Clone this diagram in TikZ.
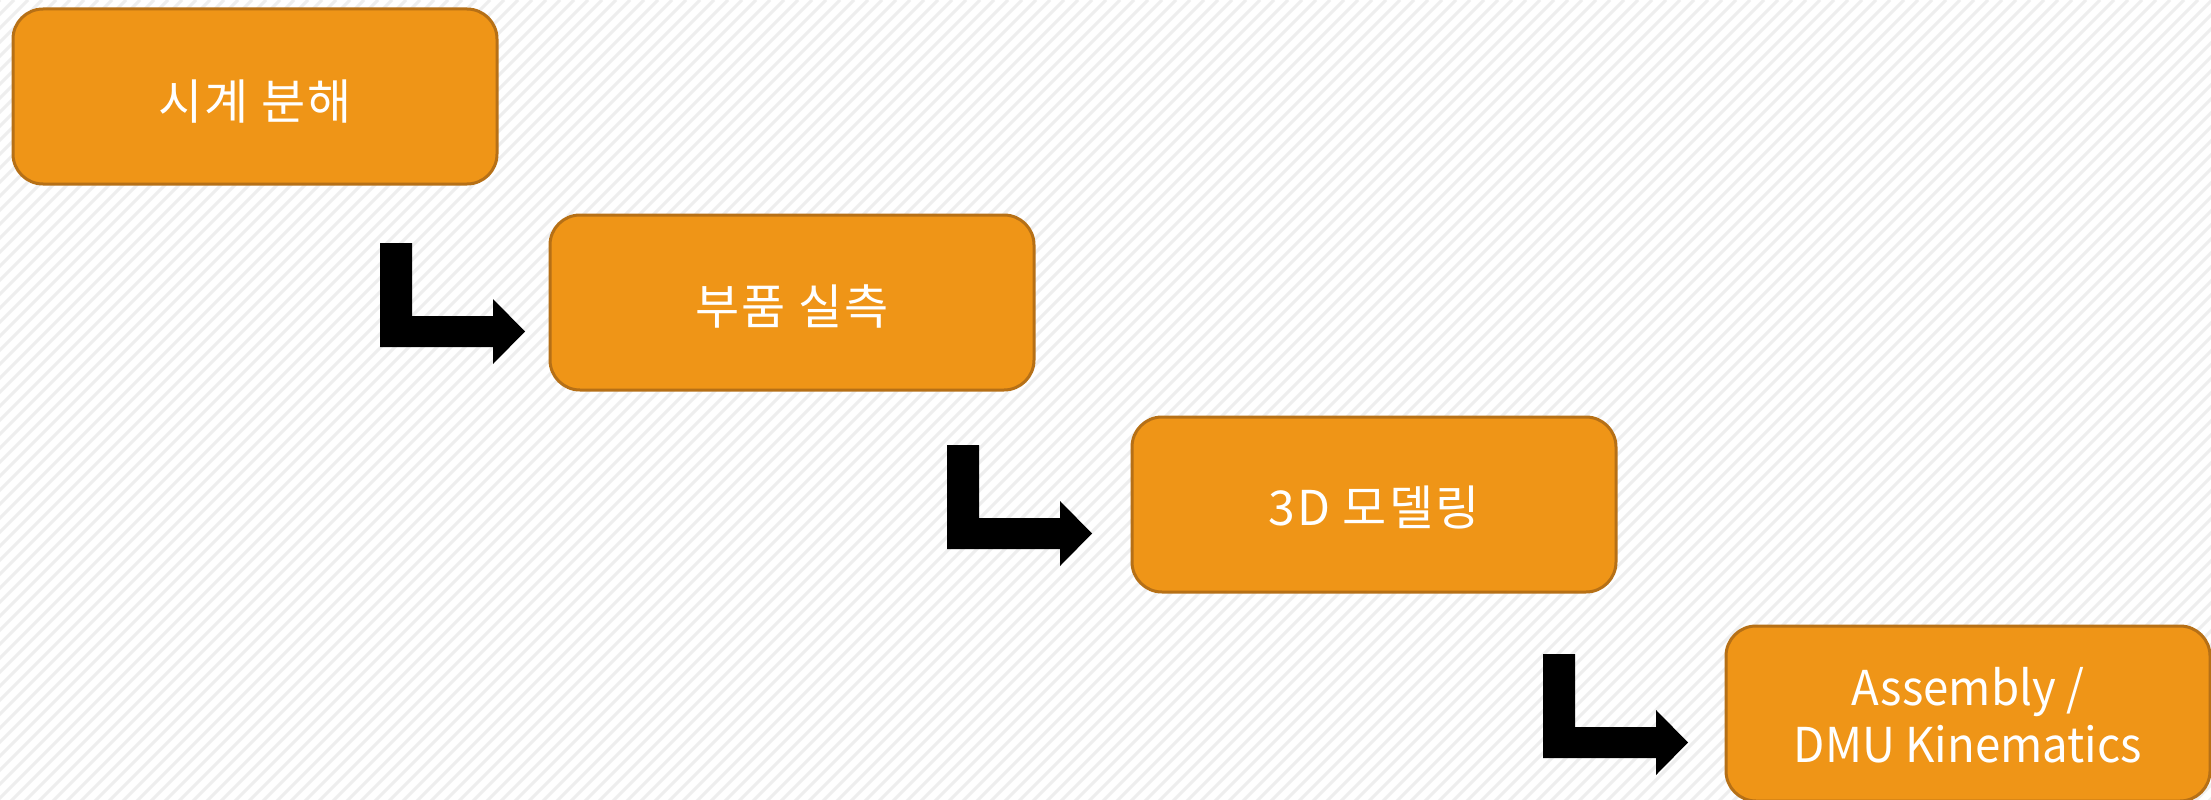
\documentclass[tikz,border=0pt]{standalone}
\usepackage{fontspec}
\setmainfont{Noto Sans CJK KR}
\newfontfamily\korwide[LetterSpace=4]{Noto Sans CJK KR}
\definecolor{boxfill}{RGB}{239,149,23}
\definecolor{boxline}{RGB}{182,112,22}
\definecolor{stripe}{RGB}{238,238,238}
\tikzset{
  stepbox/.style={draw=boxline, line width=3pt, fill=boxfill, rounded corners=30pt,
    minimum width=484pt, minimum height=175pt, inner sep=0pt},
  steptext/.style={text=white, align=center, font=\fontsize{48}{57}\selectfont, inner sep=0pt},
  kortext/.style={text=white, align=center, font=\fontsize{48}{57}\korwide, inner sep=0pt},
  bentarrow/.pic={
    \fill[black] (0,0) -- (32,0) -- (32,73) -- (113,73) -- (113,56) -- (145,88.5)
      -- (113,121) -- (113,104) -- (0,104) -- cycle;
  }
}
\begin{document}
\begin{tikzpicture}[x=1pt,y=-1pt]
\useasboundingbox (0,0) rectangle (2211,800);
\begin{scope}
  \clip (0,0) rectangle (2211,800);
  \fill[white] (0,0) rectangle (2211,800);
  \foreach \i in {0,14,...,3024} {
    \draw[stripe, line width=3pt] (\i-810,810) -- (\i,0);
  }
\end{scope}
\node[stepbox] (b1) at (255,96.5) {};
\node[stepbox] (b2) at (792,302.5) {};
\node[stepbox] (b3) at (1374,504.5) {};
\node[stepbox] (b4) at (1968,713.5) {};
\node[kortext, yshift=-5pt] (t1) at (b1.center) {시계 분해};
\node[kortext, yshift=-4pt] (t2) at (b2.center) {부품 실측};
\node[kortext, yshift=-3pt] (t3) at (b3.center) {3D 모델링};
\node[steptext, yshift=-2pt, xscale=0.95] (t4) at (b4.center) {Assembly /\\DMU Kinematics};
\coordinate (a1) at (380,243);
\coordinate (a2) at (947,445);
\coordinate (a3) at (1543,654);
\pic at (a1) {bentarrow};
\pic at (a2) {bentarrow};
\pic at (a3) {bentarrow};
\end{tikzpicture}
\end{document}
